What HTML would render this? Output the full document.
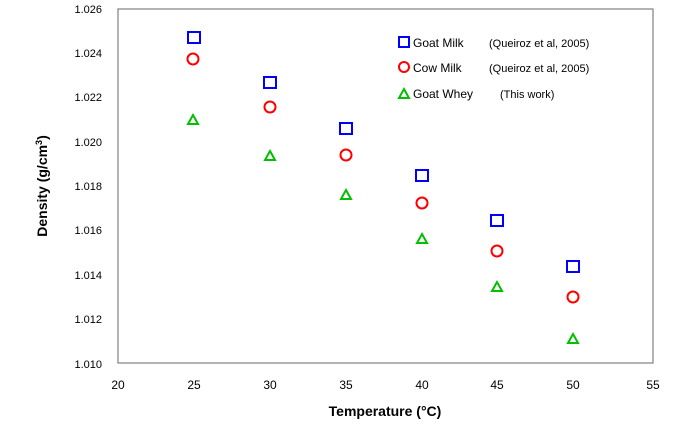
<!DOCTYPE html>
<html><head><style>body{margin:0;background:#fff}</style></head><body>
<svg width="700" height="428" xmlns="http://www.w3.org/2000/svg" font-family="Liberation Sans, sans-serif">
<rect x="118" y="9" width="535" height="354" fill="none" stroke="#808080" stroke-width="1.2"/>
<g font-size="11" text-anchor="end" fill="#000">
<text x="102" y="13">1.026</text><text x="102" y="57">1.024</text><text x="102" y="101">1.022</text>
<text x="102" y="146">1.020</text><text x="102" y="190">1.018</text><text x="102" y="234">1.016</text>
<text x="102" y="279">1.014</text><text x="102" y="323">1.012</text><text x="102" y="368">1.010</text>
</g>
<g font-size="12" text-anchor="middle">
<text x="118" y="389">20</text><text x="194" y="389">25</text><text x="270" y="389">30</text>
<text x="346" y="389">35</text><text x="422" y="389">40</text><text x="497" y="389">45</text>
<text x="573" y="389">50</text><text x="653" y="389">55</text>
</g>
<text x="385" y="416" font-size="14" font-weight="bold" text-anchor="middle">Temperature (°C)</text>
<text transform="translate(47,186) rotate(-90)" font-size="14" font-weight="bold" text-anchor="middle">Density (g/cm<tspan font-size="9" dy="-5">3</tspan><tspan dy="5">)</tspan></text>
<g fill="none" stroke="#0000ff" stroke-width="2">
<rect x="188" y="32" width="12" height="11"/><rect x="264" y="77" width="12" height="11"/>
<rect x="340" y="123" width="12" height="11"/><rect x="416" y="170" width="12" height="11"/>
<rect x="491" y="215" width="12" height="11"/><rect x="567" y="261" width="12" height="11"/>
<rect x="399" y="37" width="10" height="10"/>
</g>
<g fill="none" stroke="#ff0000" stroke-width="2">
<circle cx="193" cy="59" r="5.5"/><circle cx="270" cy="107" r="5.5"/><circle cx="346" cy="155" r="5.5"/>
<circle cx="422" cy="203" r="5.5"/><circle cx="497" cy="251" r="5.5"/><circle cx="573" cy="297" r="5.5"/>
<circle cx="404" cy="67" r="5"/>
</g>
<g fill="none" stroke="#00c000" stroke-width="2">
<path d="M193 115 L198 124 L188 124 Z"/><path d="M270 151 L275 160 L265 160 Z"/>
<path d="M346 190 L351 199 L341 199 Z"/><path d="M422 234 L427 243 L417 243 Z"/>
<path d="M497 282 L502 291 L492 291 Z"/><path d="M573 334 L578 343 L568 343 Z"/>
<path d="M404 89 L409 98 L399 98 Z"/>
</g>
<g font-size="12">
<text x="413" y="47">Goat Milk</text><text x="489" y="47" font-size="11">(Queiroz et al, 2005)</text>
<text x="413" y="72">Cow Milk</text><text x="489" y="72" font-size="11">(Queiroz et al, 2005)</text>
<text x="413" y="98">Goat Whey</text><text x="500" y="98" font-size="11">(This work)</text>
</g>
</svg>
</body></html>
